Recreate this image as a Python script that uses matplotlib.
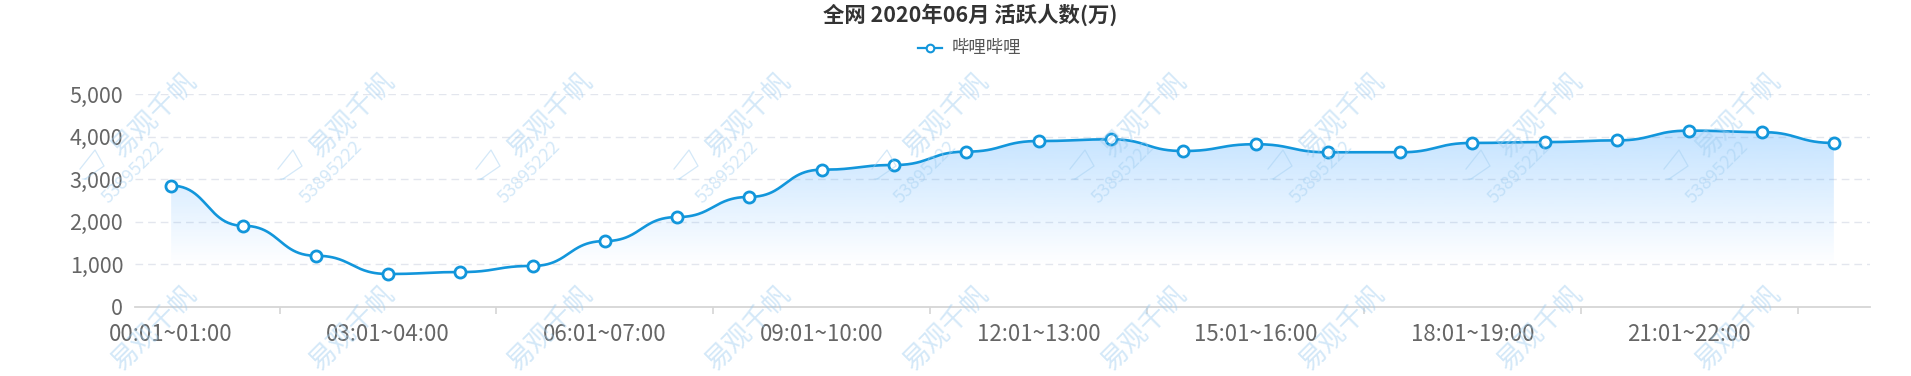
import numpy as np
import matplotlib
matplotlib.use('Agg')
import matplotlib.pyplot as plt
from matplotlib.lines import Line2D
from matplotlib.patches import Circle

plt.rcParams['font.family'] = ['Noto Sans CJK SC', 'DejaVu Sans']

# ---------------- data ----------------
title = '全网 2020年06月 活跃人数(万)'
series_name = '哔哩哔哩'
categories = ['00:01~01:00', '01:01~02:00', '02:01~03:00', '03:01~04:00',
              '04:01~05:00', '05:01~06:00', '06:01~07:00', '07:01~08:00',
              '08:01~09:00', '09:01~10:00', '10:01~11:00', '11:01~12:00',
              '12:01~13:00', '13:01~14:00', '14:01~15:00', '15:01~16:00',
              '16:01~17:00', '17:01~18:00', '18:01~19:00', '19:01~20:00',
              '20:01~21:00', '21:01~22:00', '22:01~23:00', '23:01~24:00']
values = [2850, 1905, 1200, 770, 815, 960, 1545, 2110, 2585, 3225, 3335, 3650,
          3900, 3940, 3665, 3825, 3635, 3635, 3855, 3875, 3915, 4145, 4110, 3855]
y_ticks = [0, 1000, 2000, 3000, 4000, 5000]
y_ticklabels = ['0', '1,000', '2,000', '3,000', '4,000', '5,000']
watermark_name = '易观千帆'
watermark_id = '53895222'

# ---------------- figure ----------------
W, H = 1911, 376
fig = plt.figure(figsize=(W / 100, H / 100), dpi=100)
fig.patch.set_facecolor('white')

ax_l, ax_r, ax_t, ax_b = 135, 1870, 94.3, 306.7
ax = fig.add_axes([ax_l / W, 1 - ax_b / H, (ax_r - ax_l) / W, (ax_b - ax_t) / H])
n = len(values)
ax.set_xlim(-0.5, n - 0.5)
ax.set_ylim(y_ticks[0], y_ticks[-1])

line_color = '#1296db'

# smooth curve (monotone-x style bezier: horizontal control points)
xs = np.arange(n, dtype=float)
ys = np.array(values, dtype=float)
smooth = 0.5
t = np.linspace(0, 1, 50)
cx_parts, cy_parts = [], []
for i in range(n - 1):
    x0, x3 = xs[i], xs[i + 1]
    y0, y3 = ys[i], ys[i + 1]
    dx = x3 - x0
    x1, y1 = x0 + dx * smooth, y0
    x2, y2 = x3 - dx * smooth, y3
    bx = (1 - t) ** 3 * x0 + 3 * (1 - t) ** 2 * t * x1 + 3 * (1 - t) * t ** 2 * x2 + t ** 3 * x3
    by = (1 - t) ** 3 * y0 + 3 * (1 - t) ** 2 * t * y1 + 3 * (1 - t) * t ** 2 * y2 + t ** 3 * y3
    if i > 0:
        bx, by = bx[1:], by[1:]
    cx_parts.append(bx)
    cy_parts.append(by)
cx = np.concatenate(cx_parts)
cy = np.concatenate(cy_parts)

# gradient area fill (fades out to transparent around the 1,000 line)
poly_x = np.concatenate([[cx[0]], cx, [cx[-1]]])
poly_y = np.concatenate([[0], cy, [0]])
fill = ax.fill(poly_x, poly_y, facecolor='none', edgecolor='none')[0]
ymax = max(values)
fade_bottom = 950
grad = np.linspace(0, 1, 256)[:, None]
rgba = np.zeros((256, 1, 4))
rgba[..., 0] = 58 / 255
rgba[..., 1] = 161 / 255
rgba[..., 2] = 255 / 255
rgba[..., 3] = 0.30 * grad
im = ax.imshow(rgba, extent=[cx[0], cx[-1], fade_bottom, ymax], origin='lower',
               aspect='auto', zorder=1, interpolation='bilinear')
im.set_clip_path(fill)

ax.plot(cx, cy, color=line_color, lw=1.9, zorder=3, solid_capstyle='round')
ax.plot(xs, ys, linestyle='none', marker='o', markersize=8,
        markerfacecolor='white', markeredgecolor=line_color, markeredgewidth=2.0,
        zorder=4)

# grid
for yv in y_ticks[1:]:
    ax.axhline(yv, color='#e3e6ee', lw=1.0, dashes=(5.5, 3.6), zorder=0)

for s in ['top', 'right', 'left']:
    ax.spines[s].set_visible(False)
ax.spines['bottom'].set_color('#d6d6d6')
ax.spines['bottom'].set_linewidth(1.3)
ax.spines['bottom'].set_zorder(2)

ax.set_yticks(y_ticks)
ax.set_yticklabels(y_ticklabels)
ax.tick_params(axis='y', length=0, pad=8.5, labelsize=15.5, labelcolor='#666666')

label_idx = list(range(0, n, 3))
ax.set_xticks(label_idx)
ax.set_xticklabels([categories[i] for i in label_idx])
ax.tick_params(axis='x', which='major', length=0, pad=12, labelsize=16,
               labelcolor='#666666')
ax.set_xticks([i + 1.5 for i in range(0, n - 1, 3)], minor=True)
ax.tick_params(axis='x', which='minor', length=5, width=1.2, color='#d6d6d6')

# title & legend
fig.text(970 / W, 1 - 15 / H, title, ha='center', va='center', fontsize=15.4,
         fontweight='bold', color='#333333')
fig.add_artist(Line2D([918 / W, 942 / W], [1 - 47.7 / H] * 2, color=line_color,
                      lw=1.6, transform=fig.transFigure))
fig.add_artist(Line2D([930 / W], [1 - 47.7 / H], marker='o', markersize=5.5,
                      markerfacecolor='white', markeredgecolor=line_color,
                      markeredgewidth=1.5, transform=fig.transFigure))
fig.text(952 / W, 1 - 47.7 / H, series_name, ha='left', va='center', fontsize=12.5,
         color='#555555')

# watermarks
wm_color = '#9fcdf0'
wm_alpha = 0.45
for k in range(0, 9):
    lx = 85 + 198 * k
    ly = 177
    fig.text((lx + 70.5) / W, 1 - (ly - 61.5) / H, watermark_name,
             rotation=45, ha='center', va='center', fontsize=19.5,
             color=wm_color, alpha=wm_alpha, zorder=10)
    fig.text((lx + 48.5) / W, 1 - (ly - 5) / H, watermark_id,
             rotation=45, ha='center', va='center', fontsize=13,
             color=wm_color, alpha=wm_alpha, zorder=10)
    fig.add_artist(Circle((lx / W, 1 - (ly + 2) / H), 3.5 / W,
                          transform=fig.transFigure, facecolor=wm_color,
                          edgecolor='none', alpha=wm_alpha, zorder=10))
    pts = [(-5, -8), (10, -27), (19, -11), (0, 2)]
    fig.add_artist(Line2D([(lx + px) / W for px, py in pts],
                          [1 - (ly + py) / H for px, py in pts],
                          color=wm_color, lw=0.9, alpha=wm_alpha, zorder=10,
                          transform=fig.transFigure))
    # lower row (partly visible at the bottom edge)
    ly2 = 177 + 213
    fig.text((lx + 70.5) / W, 1 - (ly2 - 61.5) / H, watermark_name,
             rotation=45, ha='center', va='center', fontsize=19.5,
             color=wm_color, alpha=wm_alpha, zorder=10)

fig.savefig('out.png', dpi=100, facecolor='white')
